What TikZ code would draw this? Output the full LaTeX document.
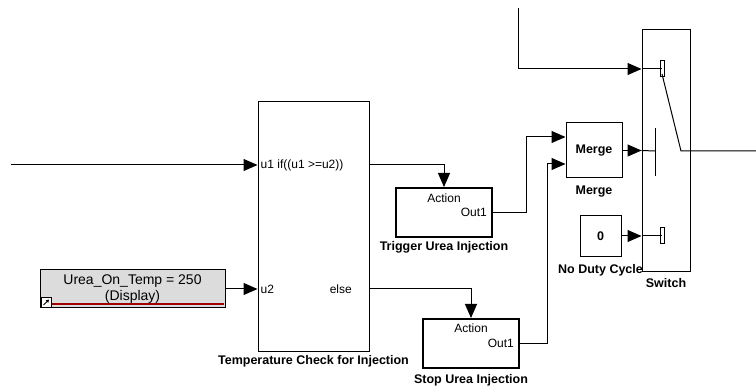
\documentclass[tikz,border=0pt]{standalone}
\usepackage{fontspec}
\setmainfont{Liberation Sans}
\usetikzlibrary{arrows.meta, positioning, calc}

\definecolor{dispgray}{RGB}{220,220,220}
\definecolor{dispred}{RGB}{160,0,0}

\tikzset{
  blk/.style={draw, line width=1pt, inner sep=0pt},
  actblk/.style={blk, line width=2pt},
  dispblk/.style={blk, fill=dispgray, align=center, font=\fontsize{14}{17}\selectfont},
  sig/.style={line width=1pt, -{Triangle[length=14pt,width=12pt]}},
  wire/.style={line width=1pt},
  port/.style={font=\fontsize{12}{14}\selectfont, inner sep=0pt},
  lbl/.style={font=\fontsize{12.5}{14}\selectfont\bfseries, inner sep=0pt},
}

\begin{document}
\begin{tikzpicture}[x=1pt, y=-1pt]
  \useasboundingbox[fill=white] (0,0) rectangle (756,387);

  % Blocs
  \node[dispblk, minimum width=185pt, minimum height=38pt] (disp) at (132.5,289) {Urea\_On\_Temp = 250\\[-1pt](Display)};
  \node[blk, minimum width=111pt, minimum height=250pt] (ifblk) at (313.5,227) {};
  \node[actblk, minimum width=96pt, minimum height=49pt] (trig) at (444,212.5) {};
  \node[actblk, minimum width=96pt, minimum height=49pt] (stop) at (471,343.5) {};
  \node[blk, minimum width=56pt, minimum height=55pt, font=\fontsize{12.5}{14}\selectfont\bfseries] (merge) at (594,150.5) {Merge};
  \node[blk, minimum width=41pt, minimum height=41pt, font=\fontsize{12.5}{14}\selectfont\bfseries] (zero) at (600.5,236) {0};
  \node[blk, minimum width=48pt, minimum height=242pt] (sw) at (666,151) {};

  % Ports
  \node[port, anchor=west] (pu1) at ($(ifblk.west |- 0,165)+(3,0)$) {u1 if((u1 >=u2))};
  \node[port, anchor=west] (pu2) at ($(ifblk.west |- disp.east)+(3,0)$) {u2};
  \node[port, anchor=east] (pelse) at (352,289) {else};
  \node[port] (act1) at ($(trig.north)+(0,11)$) {Action};
  \node[port, anchor=east] (out1) at ($(trig.east)+(-6,0)$) {Out1};
  \node[port] (act2) at ($(stop.north)+(0,10)$) {Action};
  \node[port, anchor=east] (out2) at ($(stop.east)+(-6,0)$) {Out1};

  % Noms des blocs
  \node[lbl, below=3pt of ifblk] (ifname) {Temperature Check for Injection};
  \node[lbl, below=3pt of trig] (trigname) {Trigger Urea Injection};
  \node[lbl, below=5pt of stop] (stopname) {Stop Urea Injection};
  \node[lbl, below=7pt of merge] (mergename) {Merge};
  \node[lbl, below=7pt of zero] (zeroname) {No Duty Cycle};
  \node[lbl, below=6pt of sw] (swname) {Switch};

  % Icone du bloc Display
  \draw[dispred, line width=1.5pt] (52,304) -- (224,304);
  \draw[line width=0.8pt, fill=white] (41,297) rectangle (51,307);
  \draw[line width=1pt, -{Triangle[length=3pt,width=3.5pt]}] (43.5,305) -- (49,299.5);

  % Entrees et sorties libres
  \coordinate (in1) at (11,165);
  \coordinate (ctl) at (518,8);
  \coordinate (out) at (756,151);
  \coordinate (m1) at (merge.west |- 0,137);
  \coordinate (m2) at (merge.west |- 0,164);
  \coordinate (s1) at (sw.west |- 0,69);
  \coordinate (s3) at (sw.west |- zero.east);

  % Connexions
  \draw[sig] (in1) -- (ifblk.west |- pu1);
  \draw[sig] (disp.east) -- (ifblk.west |- pu2);
  \draw[sig] (ifblk.east |- pu1) -| (trig.north);
  \draw[sig] (ifblk.east |- pelse) -| (stop.north);
  \draw[sig] (trig.east) -- ++(33,0) |- (m1);
  \draw[sig] (stop.east) -- ++(27,0) |- (m2);
  \draw[sig] (ctl) |- (s1);
  \draw[sig] (merge.east) -- (sw.west |- merge.east);
  \draw[sig] (zero.east) -- (s3);

  % Interrupteur
  \draw[wire] (s1) -- ++(20,0);
  \draw[wire] (660,61) rectangle (664,77);
  \draw[wire] (662,74) -- (681,151) -- (out);
  \draw[wire] (sw.west |- merge.east) -- (655,151);
  \draw[wire] (655,128) -- (655,176);
  \draw[wire] (s3) -- ++(20,0);
  \draw[wire] (660,228) rectangle (664,244);
\end{tikzpicture}
\end{document}
